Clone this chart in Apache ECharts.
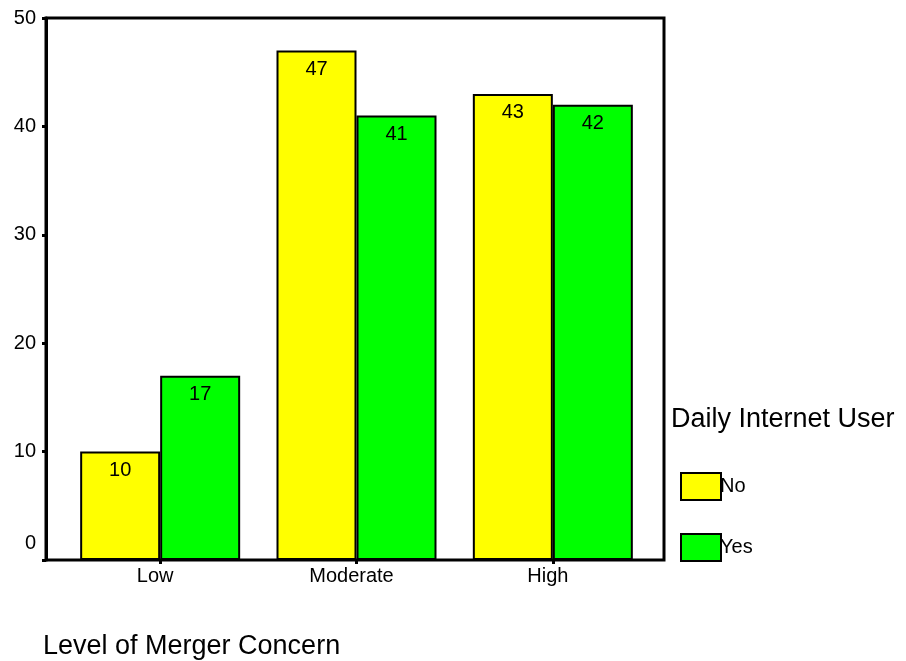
<!DOCTYPE html>
<html>
<head>
<meta charset="utf-8">
<script src="https://cdn.jsdelivr.net/npm/echarts@6/dist/echarts.min.js"></script>
<style>
  html, body { margin: 0; padding: 0; background: #fff; }
  #chart { width: 906px; height: 661px; }
</style>
</head>
<body>
<div id="chart"></div>
<script>
// Percentages of respondents by level of merger concern, split by daily internet use
const categories = ['Low', 'Moderate', 'High'];
const seriesNames = ['No', 'Yes'];
const noValues = [10, 47, 43];
const yesValues = [17, 41, 42];
const yTicks = [0, 10, 20, 30, 40, 50];

const FONT = 'Liberation Sans, Arial, sans-serif';
const chart = echarts.init(document.getElementById('chart'), null, { renderer: 'canvas' });

function barSeries(name, values, color) {
  return {
    name: name,
    type: 'bar',
    xAxisIndex: 1,
    yAxisIndex: 1,
    data: values,
    barWidth: 80,
    barGap: '0%',
    itemStyle: { color: color, borderColor: '#000', borderWidth: 2 },
    label: {
      show: true,
      position: 'insideTop',
      distance: 9,
      color: '#000',
      fontFamily: FONT,
      fontSize: 20
    },
    emphasis: { disabled: true },
    animation: false
  };
}

chart.setOption({
  animation: false,
  backgroundColor: '#fff',
  textStyle: { fontFamily: FONT },
  title: [
    {
      text: 'Daily Internet User',
      left: 666, top: 401,
      textStyle: { fontFamily: FONT, fontSize: 27, fontWeight: 'normal', color: '#000' }
    },
    {
      text: 'Level of Merger Concern',
      left: 38, top: 628,
      textStyle: { fontFamily: FONT, fontSize: 27, fontWeight: 'normal', color: '#000' }
    }
  ],
  legend: {
    data: seriesNames,
    orient: 'vertical',
    left: 675, top: 467,
    icon: 'rect',
    itemWidth: 40,
    itemHeight: 27,
    itemGap: 32,
    selectedMode: false,
    itemStyle: { borderColor: '#000', borderWidth: 2 },
    textStyle: { fontFamily: FONT, fontSize: 20, color: '#000', padding: [0, 0, 0, -6] }
  },
  grid: [
    { left: 46, top: 18, width: 618, height: 542, show: true, borderColor: '#000', borderWidth: 3, backgroundColor: 'transparent' },
    { left: 62, top: 18, width: 589, height: 542 }
  ],
  xAxis: [
    { type: 'category', gridIndex: 0, data: categories, show: false },
    {
      type: 'category', gridIndex: 1, data: categories,
      axisLine: { show: false },
      axisTick: { show: true, alignWithLabel: true, length: 4, lineStyle: { color: '#000', width: 3 } },
      axisLabel: { color: '#000', fontFamily: FONT, fontSize: 20, margin: 6, padding: [0, 10, 0, 0] },
      splitLine: { show: false }
    }
  ],
  yAxis: [
    {
      type: 'value', gridIndex: 0, min: 0, max: 50, interval: 10,
      axisLine: { show: true, lineStyle: { color: '#000', width: 3 } },
      axisTick: { show: true, length: 4, lineStyle: { color: '#000', width: 3 } },
      splitLine: { show: false },
      axisLabel: {
        color: '#000', fontFamily: FONT, fontSize: 20, margin: 10,
        formatter: function (v) {
          return yTicks.indexOf(v) === 0 ? '{z|' + v + '}' : String(v);
        },
        rich: { z: { fontFamily: FONT, fontSize: 20, color: '#000', padding: [0, 0, 34, 0] } }
      }
    },
    { type: 'value', gridIndex: 1, min: 0, max: 50, interval: 10, show: false }
  ],
  series: [
    barSeries(seriesNames[0], noValues, '#ffff00'),
    barSeries(seriesNames[1], yesValues, '#00ff00')
  ]
});
</script>
</body>
</html>
